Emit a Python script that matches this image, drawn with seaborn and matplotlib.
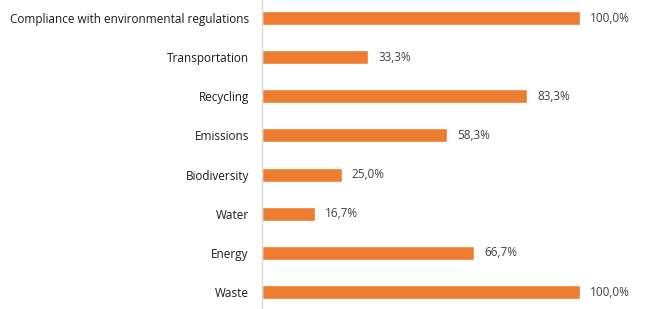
import pandas as pd
import matplotlib.pyplot as plt
import seaborn as sns

categories = ['Compliance with environmental regulations', 'Transportation', 'Recycling',
              'Emissions', 'Biodiversity', 'Water', 'Energy', 'Waste']
values = [100.0, 33.3, 83.3, 58.3, 25.0, 16.7, 66.7, 100.0]

df = pd.DataFrame({'category': categories, 'value': values})

sns.set_style('white')
plt.rcParams['font.family'] = ['Open Sans', 'DejaVu Sans']

fig = plt.figure(figsize=(6.56, 3.09), dpi=100)
ax = fig.add_axes([262 / 656, 0, (580 - 262) / 656, 1])

sns.barplot(data=df, x='value', y='category', orient='h', color='#ED7D31',
            saturation=1, width=0.36, ax=ax)

ax.set_xlim(0, 100)
ax.set_ylim(7.434, -0.46)
ax.set_xlabel('')
ax.set_ylabel('')
ax.set_xticks([])
ax.tick_params(axis='y', length=0, pad=9.5, labelsize=8.5, labelcolor='#1a1a1a')

for s in ['top', 'right', 'bottom']:
    ax.spines[s].set_visible(False)
ax.spines['left'].set_color('#D9D9D9')
ax.spines['left'].set_linewidth(1)

# value labels with comma decimal
for i, v in enumerate(values):
    ax.text(v + 3.2, i, f'{v:.1f}%'.replace('.', ','), va='center', ha='left',
            fontsize=8.5, color='#404040', clip_on=False)

fig.savefig('out.png', dpi=100)
